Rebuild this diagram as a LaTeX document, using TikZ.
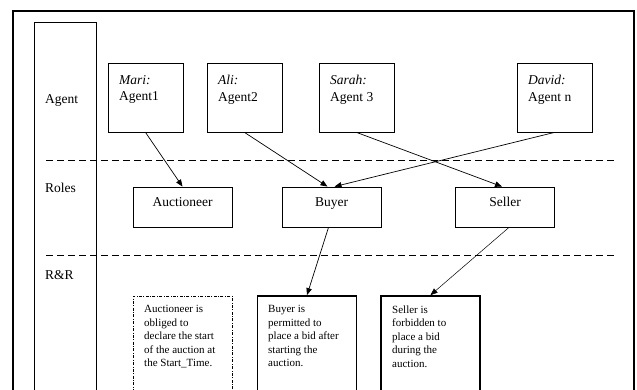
\documentclass[tikz,border=0pt]{standalone}
\usepackage{fontspec}
\setmainfont{Liberation Serif}
\usetikzlibrary{arrows.meta, positioning}

\tikzset{
  agentbox/.style = {draw, line width=0.8pt, minimum width=75pt, minimum height=69pt, inner sep=0pt},
  rolebox/.style = {draw, line width=0.8pt, minimum width=99pt, minimum height=40pt, inner sep=0pt,
    font=\fontsize{13.5}{16.5}\selectfont, text depth=10pt},
  normbox/.style = {draw, minimum width=99pt, minimum height=110pt, inner sep=0pt},
  bigtext/.style = {anchor=north west, inner sep=0pt, align=left, font=\fontsize{13.5}{16.5}\selectfont},
  smalltext/.style = {anchor=north west, inner sep=0pt, align=left, font=\fontsize{11}{13.5}\selectfont},
  layer/.style = {anchor=west, inner sep=0pt, font=\fontsize{13.5}{16.5}\selectfont},
  sep/.style = {line width=0.8pt, dash pattern=on 7pt off 4pt},
  link/.style = {line width=0.7pt, -{Triangle[length=7pt,width=5.5pt]}}
}

\begin{document}
\begin{tikzpicture}[x=1pt, y=-1pt]
\useasboundingbox (0,0) rectangle (637,390);
\clip (0,0) rectangle (637,390);

% frame and layer column
\draw[line width=1.3pt] (13,11) rectangle (634,420);
\draw[line width=0.8pt] (34,22.5) rectangle (96,420);
\node[layer] (lagent) at (45,101) {Agent};
\node[layer] (lroles) at (45,188) {Roles};
\node[layer] (lrr) at (45,275) {R\&R};

% separators
\draw[sep] (46,160) -- (617,160);
\draw[sep] (46,255) -- (617,255);

% agents
\node[agentbox] (mari) at (145.5,97.5) {};
\node[agentbox] (ali) at (244.5,97.5) {};
\node[agentbox] (sarah) at (356.5,97.5) {};
\node[agentbox] (david) at (554.5,97.5) {};
\node[bigtext] (mari-txt) at (119,75) {\textit{Mari:}\\Agent1};
\node[bigtext] (ali-txt) at (218,75) {\textit{Ali:}\\Agent2};
\node[bigtext] (sarah-txt) at (330,75) {\textit{Sarah:}\\Agent 3};
\node[bigtext] (david-txt) at (528,75) {\textit{David:}\\Agent n};

% roles
\node[rolebox] (auct) at (182.5,207) {Auctioneer};
\node[rolebox] (buyer) at (331.5,207) {Buyer};
\node[rolebox] (seller) at (505,207) {Seller};

% rights and responsibilities
\node[normbox, dash pattern=on 3pt off 1.5pt on 0.8pt off 1.5pt, line width=0.6pt] (auct-rr) at (182.5,351) {};
\node[normbox, line width=1.8pt] (buyer-rr) at (307,351) {};
\node[normbox, line width=1.8pt] (seller-rr) at (430.5,351) {};
\node[smalltext] (auct-txt) at (144,305.5) {Auctioneer is\\obliged to\\declare the start\\of the auction at\\the Start\_Time.};
\node[smalltext] (buyer-txt) at (268,305.5) {Buyer is\\permitted to\\place a bid after\\starting the\\auction.};
\node[smalltext] (seller-txt) at (392,305.5) {Seller is\\forbidden to\\place a bid\\during the\\auction.};

% links
\draw[link] (mari.south) -- (auct.north);
\draw[link] (ali.south) -- ([xshift=-4pt]buyer.north);
\draw[link] (david.south) -- ([xshift=3pt]buyer.north);
\draw[link] (sarah.south) -- ([xshift=-3pt]seller.north);
\draw[link] ([xshift=-3pt]buyer.south) -- (buyer-rr.north);
\draw[link, line width=0.5pt] ([xshift=4pt]seller.south) -- (seller-rr.north);
\end{tikzpicture}
\end{document}
